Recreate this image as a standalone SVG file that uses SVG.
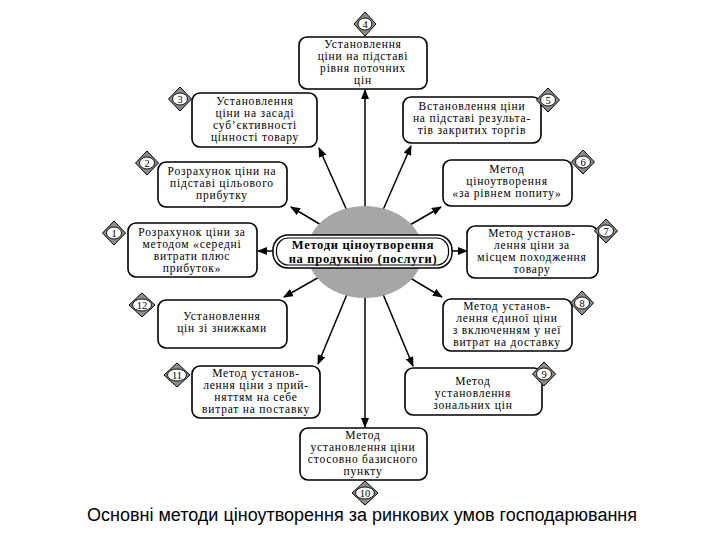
<svg xmlns="http://www.w3.org/2000/svg" width="720" height="540" viewBox="0 0 720 540">
<defs>
<style>
.box{fill:#fff;stroke:#000;stroke-width:1.6}
.t{font-family:"Liberation Serif","Times New Roman",serif;font-size:11.5px;letter-spacing:0.8px;fill:#000;text-anchor:middle}
.tc{font-family:"Liberation Serif","Times New Roman",serif;font-size:12.5px;letter-spacing:0.7px;font-weight:bold;fill:#000;text-anchor:middle}
.dia{fill:#8c8c8c;stroke:#000;stroke-width:1}
.num{fill:#fff;stroke:#000;stroke-width:0.9}
.n{font-family:"Liberation Serif","Times New Roman",serif;font-size:10.5px;fill:#000;text-anchor:middle}
.ln{stroke:#000;stroke-width:1.5;fill:none;marker-end:url(#ah)}
.cap{font-family:"Liberation Sans",Arial,sans-serif;font-size:18px;fill:#000;text-anchor:middle}
</style>
<marker id="ah" viewBox="0 0 10 8" refX="9" refY="4" markerWidth="10" markerHeight="8" markerUnits="userSpaceOnUse" orient="auto">
<path d="M0,0 L10,4 L0,8 Z" fill="#000"/>
</marker>
</defs>
<rect width="720" height="540" fill="#fff"/>
<g id="connectors">
<line class="ln" x1="365" y1="251" x2="365" y2="90"/>
<line class="ln" x1="365" y1="251" x2="319" y2="148"/>
<line class="ln" x1="365" y1="251" x2="411" y2="146"/>
<line class="ln" x1="365" y1="251" x2="291" y2="207"/>
<line class="ln" x1="365" y1="251" x2="441" y2="207"/>
<line class="ln" x1="273" y1="251" x2="258" y2="251"/>
<line class="ln" x1="452" y1="251" x2="467" y2="251"/>
<line class="ln" x1="365" y1="251" x2="284" y2="297"/>
<line class="ln" x1="365" y1="251" x2="442" y2="297"/>
<line class="ln" x1="365" y1="251" x2="318" y2="364"/>
<line class="ln" x1="365" y1="251" x2="413" y2="366"/>
<line class="ln" x1="365" y1="251" x2="365" y2="427"/>
</g>
<g id="center">
<ellipse cx="365" cy="252" rx="58" ry="46" fill="#a6a6a6"/>
<rect x="273" y="235" width="179" height="33" rx="15" fill="#fff" stroke="#000" stroke-width="1.5"/>
<rect x="276.5" y="238" width="172" height="27" rx="12" fill="none" stroke="#000" stroke-width="1.2"/>
<text class="tc" x="363" y="249">Методи ціноутворення</text>
<text class="tc" x="363" y="263">на продукцію (послуги)</text>
</g>
<g id="n4">
<rect class="box" x="299" y="37" width="128" height="52" rx="8"/>
<text class="t" x="363" y="48">Установлення</text>
<text class="t" x="363" y="60">ціни на підставі</text>
<text class="t" x="363" y="72">рівня поточних</text>
<text class="t" x="363" y="84">цін</text>
<polygon class="dia" points="365,12 376,24 365,36 354,24"/>
<ellipse class="num" cx="365" cy="24" rx="7" ry="6"/>
<text class="n" x="365" y="27.5">4</text>
</g>
<g id="n3">
<rect class="box" x="192" y="93" width="125" height="54" rx="8"/>
<text class="t" x="255" y="105">Установлення</text>
<text class="t" x="255" y="117">ціни на засаді</text>
<text class="t" x="255" y="129">суб’єктивності</text>
<text class="t" x="255" y="141">цінності товару</text>
<polygon class="dia" points="180,87 191.5,99 180,111 168.5,99"/>
<ellipse class="num" cx="180" cy="99" rx="7.5" ry="6"/>
<text class="n" x="180" y="102.5">3</text>
</g>
<g id="n5">
<rect class="box" x="403" y="97" width="138" height="46" rx="8"/>
<text class="t" x="472" y="110">Встановлення ціни</text>
<text class="t" x="472" y="122">на підставі результа-</text>
<text class="t" x="472" y="134">тів закритих торгів</text>
<polygon class="dia" points="548,88 559.5,100 548,112 536.5,100"/>
<ellipse class="num" cx="548" cy="100" rx="7.5" ry="6"/>
<text class="n" x="548" y="103.5">5</text>
</g>
<g id="n2">
<rect class="box" x="158" y="162" width="129" height="45" rx="8"/>
<text class="t" x="222" y="175">Розрахунок ціни на</text>
<text class="t" x="222" y="187">підставі цільового</text>
<text class="t" x="222" y="199">прибутку</text>
<polygon class="dia" points="147,151 158.5,163 147,175 135.5,163"/>
<ellipse class="num" cx="147" cy="163" rx="7.5" ry="6"/>
<text class="n" x="147" y="166.5">2</text>
</g>
<g id="n6">
<rect class="box" x="443" y="160" width="129" height="46" rx="8"/>
<text class="t" x="507" y="173">Метод</text>
<text class="t" x="507" y="185">ціноутворення</text>
<text class="t" x="507" y="197">«за рівнем попиту»</text>
<polygon class="dia" points="583,150 594.5,162 583,174 571.5,162"/>
<ellipse class="num" cx="583" cy="162" rx="7.5" ry="6"/>
<text class="n" x="583" y="165.5">6</text>
</g>
<g id="n1">
<rect class="box" x="128" y="223" width="129" height="54" rx="8"/>
<text class="t" x="192" y="236">Розрахунок ціни за</text>
<text class="t" x="192" y="248">методом «середні</text>
<text class="t" x="192" y="260">витрати плюс</text>
<text class="t" x="192" y="272">прибуток»</text>
<polygon class="dia" points="114,221 125.5,233 114,245 102.5,233"/>
<ellipse class="num" cx="114" cy="233" rx="7.5" ry="6"/>
<text class="n" x="114" y="236.5">1</text>
</g>
<g id="n7">
<rect class="box" x="467" y="226" width="131" height="52" rx="8"/>
<text class="t" x="532" y="237">Метод установ-</text>
<text class="t" x="532" y="249">лення ціни за</text>
<text class="t" x="532" y="261">місцем походження</text>
<text class="t" x="532" y="273">товару</text>
<polygon class="dia" points="606,219 617.5,231 606,243 594.5,231"/>
<ellipse class="num" cx="606" cy="231" rx="7.5" ry="6"/>
<text class="n" x="606" y="234.5">7</text>
</g>
<g id="n12">
<rect class="box" x="158" y="300" width="129" height="48" rx="8"/>
<text class="t" x="222" y="320">Установлення</text>
<text class="t" x="222" y="332">цін зі знижками</text>
<polygon class="dia" points="142,293 155,305 142,317 129,305"/>
<ellipse class="num" cx="142" cy="305" rx="9.5" ry="6"/>
<text class="n" x="142" y="308.5">12</text>
</g>
<g id="n8">
<rect class="box" x="443" y="299" width="129" height="52" rx="8"/>
<text class="t" x="507" y="310">Метод установ-</text>
<text class="t" x="507" y="322">лення єдиної ціни</text>
<text class="t" x="507" y="334">з включенням у неї</text>
<text class="t" x="507" y="346">витрат на доставку</text>
<polygon class="dia" points="582,291 593.5,303 582,315 570.5,303"/>
<ellipse class="num" cx="582" cy="303" rx="7.5" ry="6"/>
<text class="n" x="582" y="306.5">8</text>
</g>
<g id="n11">
<rect class="box" x="192" y="366" width="128" height="52" rx="8"/>
<text class="t" x="256" y="377">Метод установ-</text>
<text class="t" x="256" y="389">лення ціни з прий-</text>
<text class="t" x="256" y="401">няттям на себе</text>
<text class="t" x="256" y="413">витрат на поставку</text>
<polygon class="dia" points="177,363 190,375 177,387 164,375"/>
<ellipse class="num" cx="177" cy="375" rx="9.5" ry="6"/>
<text class="n" x="177" y="378.5">11</text>
</g>
<g id="n9">
<rect class="box" x="405" y="368" width="137" height="47" rx="8"/>
<text class="t" x="473" y="385">Метод</text>
<text class="t" x="473" y="397">установлення</text>
<text class="t" x="473" y="409">зональних цін</text>
<polygon class="dia" points="544,362 555.5,374 544,386 532.5,374"/>
<ellipse class="num" cx="544" cy="374" rx="7.5" ry="6"/>
<text class="n" x="544" y="377.5">9</text>
</g>
<g id="n10">
<rect class="box" x="300" y="428" width="127" height="52" rx="8"/>
<text class="t" x="363" y="439">Метод</text>
<text class="t" x="363" y="451">установлення ціни</text>
<text class="t" x="363" y="463">стосовно базисного</text>
<text class="t" x="363" y="475">пункту</text>
<polygon class="dia" points="365,481 378,493 365,505 352,493"/>
<ellipse class="num" cx="365" cy="493" rx="9.5" ry="6"/>
<text class="n" x="365" y="496.5">10</text>
</g>
<text class="cap" x="362" y="521">Основні методи ціноутворення за ринкових умов господарювання</text>
</svg>
